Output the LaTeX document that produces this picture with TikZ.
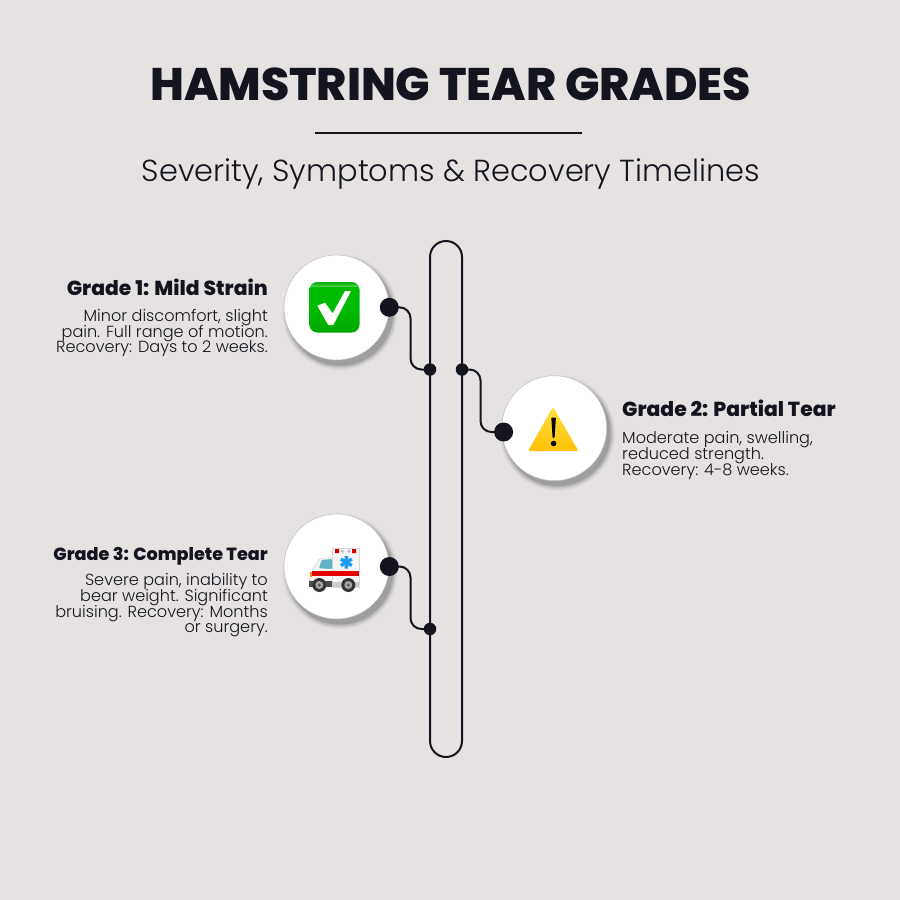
\documentclass[tikz,border=0pt]{standalone}
\usepackage{fontspec}
\setmainfont{Poppins}[UprightFont=* Light,BoldFont=* ExtraBold]
\usetikzlibrary{calc}
\setlength{\normallineskiplimit}{-20pt}
\setlength{\lineskiplimit}{-20pt}
\definecolor{bgc}{HTML}{E5E2E1}
\definecolor{ink}{HTML}{14141F}
\definecolor{gA}{HTML}{00A800}
\definecolor{gB}{HTML}{00BC00}
\definecolor{gC}{HTML}{48D048}
\definecolor{gD}{HTML}{10B010}
\pgfdeclareverticalshading{greenbox}{100bp}{color(0bp)=(gA);color(25bp)=(gA);color(50bp)=(gB);color(70bp)=(gB);color(71bp)=(gC);color(74bp)=(gD);color(100bp)=(gD)}
\tikzset{
  x=1pt,y=-1pt,
  conn/.style={draw=ink,line width=2pt,rounded corners=11pt},
  dotbig/.style={circle,fill=ink,minimum size=19pt,inner sep=0pt},
  dotsmall/.style={circle,fill=ink,minimum size=12.5pt,inner sep=0pt},
  disc/.style={circle,fill=white,draw=black!25,line width=.5pt,minimum size=105pt,inner sep=0pt},
  head/.style={font=\bfseries\fontsize{20.3pt}{22pt}\selectfont,text=ink,inner sep=0pt},
  bodyr/.style={font=\fontsize{16.1pt}{15.7pt}\selectfont,text=ink,inner sep=0pt,align=right,anchor=north east},
  bodyl/.style={font=\fontsize{16.1pt}{15.7pt}\selectfont,text=ink,inner sep=0pt,align=left,anchor=north west},
}
\newcommand{\softshadow}[2]{%
  \foreach \r/\o in {58/.02,57/.03,56/.05,55/.06,54/.08,53/.10}{
    \fill[black,opacity=\o] (#1+3.5,#2+5) circle[radius=\r];
  }}
\begin{document}
\begin{tikzpicture}
\useasboundingbox (0,0) rectangle (900,900);
\fill[bgc] (0,0) rectangle (900,900);
% title
\node[font=\bfseries\fontsize{45.6pt}{48pt}\selectfont,text=ink,inner sep=0pt] (title) at (450.5,84) {HAMSTRING TEAR GRADES};
\coordinate (ruleL) at (315,132.5);
\coordinate (ruleR) at (582,132.5);
\draw[ink,line width=2pt] (ruleL) -- (ruleR);
\node[font=\fontsize{30.4pt}{34pt}\selectfont,text=ink,inner sep=0pt] (subtitle) at (451,173.5) {Severity, Symptoms \& Recovery Timelines};
% track
\draw[ink,line width=2pt,rounded corners=16pt] (430,241) rectangle (462,757);
% discs
\softshadow{336.5}{307.5}
\softshadow{554}{428}
\softshadow{336.5}{566.5}
\node[disc] (d1) at (336.5,307.5) {};
\node[disc] (d2) at (554.2,428.2) {};
\node[disc] (d3) at (336.5,566.5) {};
% connector dots
\node[dotbig] (p1) at (389.3,307.3) {};
\node[dotsmall] (q1) at (430,369.5) {};
\node[dotsmall] (q2) at (462,369.5) {};
\node[dotbig] (p2) at (503.6,432) {};
\node[dotbig] (p3) at (389.3,566.5) {};
\node[dotsmall] (q3) at (430,629) {};
\draw[conn] (p1.center) -| (410.5,340) |- (q1.center);
\draw[conn] (q2.center) -| (480.5,400) |- (p2.center);
\draw[conn] (p3.center) -| (410.5,600) |- (q3.center);
% check emoji
\path[shading=greenbox,rounded corners=8pt] (309.3,282) rectangle (359.6,332.5);
\fill[white] (317.3,305.7) -- (325,302.7) -- (332.7,313.3) -- (345,291) -- (351,291) -- (333.3,325) -- (328.3,325) -- cycle;
% warning emoji
\definecolor{warnT}{HTML}{FFDF40}
\definecolor{warnB}{HTML}{FFC107}
\shade[top color=warnT,bottom color=warnB,rounded corners=2.5pt] (553,406.8) -- (578.6,451.2) -- (528,451.2) -- cycle;
\fill[black,rounded corners=.8pt] (551.3,417.5) -- (555.9,417.5) -- (554.6,438) -- (552.6,438) -- cycle;
\fill[black] (553.6,443.5) circle[radius=2.8];
% ambulance emoji
\fill[black!4,draw=black!15,line width=.3pt] (332.3,547.7) rectangle (359.3,586.7);
\fill[black!4,draw=black!25,line width=.3pt,rounded corners=1.5pt] (332.3,557.7) -- (320,558.3) -- (311.7,571.7) -- (309.3,580) -- (309.3,586.7) -- (332.3,586.7) -- cycle;
\fill[black!70] (309.3,581) rectangle (332.3,586.7);
\fill[black!20] (332.3,582) rectangle (359.3,586.7);
\fill[red!90!black] (312,570.7) rectangle (358.7,575.7);
\definecolor{winc}{HTML}{5FB4C8}
\fill[winc,rounded corners=1pt] (332,559) -- (321.5,560) -- (319,568.3) -- (332,569) -- cycle;
\fill[red!85!black] (335,549.2) rectangle (339,553.2) (352,549.2) rectangle (356,553.2);
\fill[black!25] (342.3,551.2) circle[radius=1.8] (349,551.2) circle[radius=1.8];
\definecolor{starc}{HTML}{1E9CF0}
\draw[starc,line width=3.4pt] (346.3,556) -- (346.3,568.6) (340.8,559.1) -- (351.8,565.5) (340.8,565.5) -- (351.8,559.1);
\foreach \x in {319.3,348.3}{
  \fill[black!80] (\x,585) circle[radius=7];
  \fill[black!35] (\x,585) circle[radius=4];
  \fill[black!65] (\x,585) circle[radius=1.7];
}
\fill[orange!90!yellow] (309.8,572) rectangle (311.8,577);
% texts
\node[head,anchor=base east] (h1) at (268,295.5) {Grade 1: Mild Strain};
\node[bodyr] (b1) at (268,309) {Minor discomfort, slight\\pain. Full range of motion.\\Recovery: Days to 2 weeks.};
\node[head,anchor=base west] (h2) at (622,416.5) {Grade 2: Partial Tear};
\node[bodyl] (b2) at (622,431.5) {Moderate pain, swelling,\\reduced strength.\\Recovery: 4-8 weeks.};
\node[head,anchor=base east,font=\bfseries\fontsize{17.6pt}{19pt}\selectfont] (h3) at (268,560) {Grade 3: Complete Tear};
\node[bodyr] (b3) at (268,573.5) {Severe pain, inability to\\bear weight. Significant\\bruising. Recovery: Months\\or surgery.};
\end{tikzpicture}
\end{document}
